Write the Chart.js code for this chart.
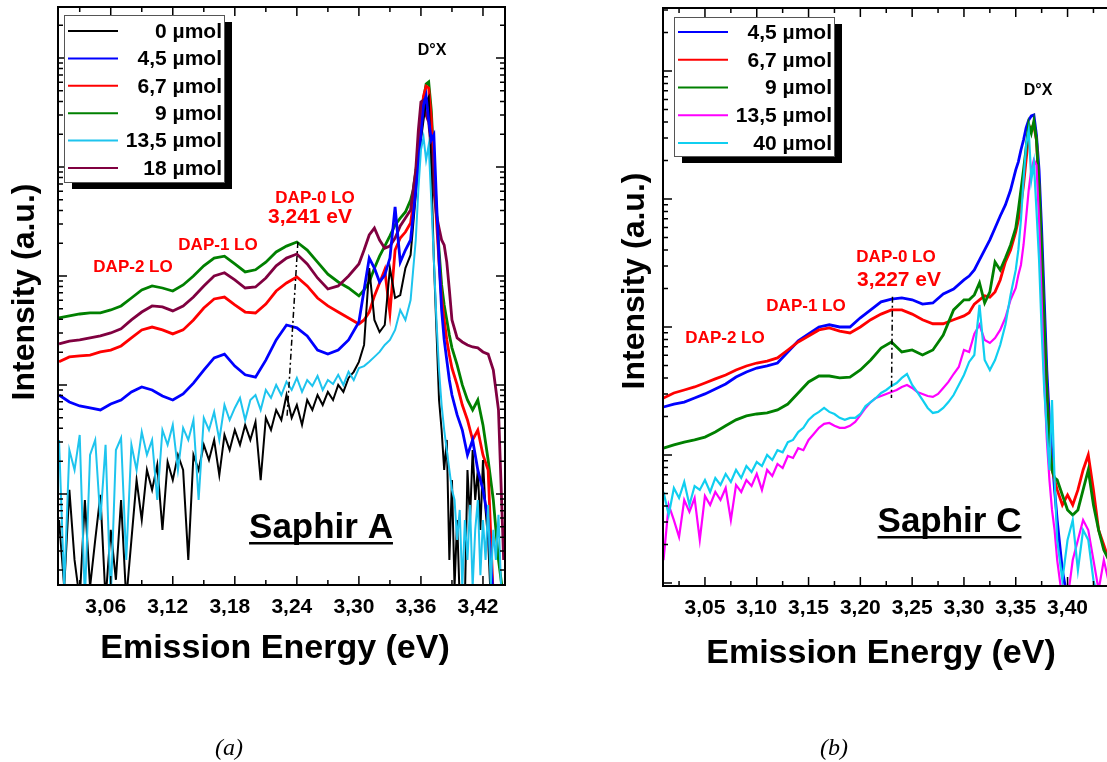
<!DOCTYPE html>
<html>
<head>
<meta charset="utf-8">
<script src="https://cdn.jsdelivr.net/npm/chart.js@4.4.1/dist/chart.umd.min.js"></script>
<style>
  html, body { margin: 0; padding: 0; background: #fff; overflow: hidden; }
</style>
</head>
<body>
<canvas id="chartA" width="545" height="762" style="position:absolute;left:0;top:0"></canvas>
<canvas id="chartB" width="515" height="762" style="position:absolute;left:600px;top:0"></canvas>
<script>
// ---------- panel (a) : Saphir A ----------
const energyA = [3.01,3.02,3.03,3.04,3.05,3.06,3.07,3.08,3.09,3.10,
  3.11,3.12,3.13,3.14,3.15,3.16,3.17,3.18,3.19,3.20,
  3.21,3.22,3.23,3.24,3.25,3.26,3.27,3.28,3.29,3.30,
  3.305,3.31,3.315,3.32,3.325,3.33,3.335,3.34,3.345,
  3.35,3.3525,3.355,3.3575,3.36,3.3625,3.365,3.3675,3.37,3.3725,3.375,3.3775,3.38,3.3825,3.385,3.3875,3.39,
  3.395,3.40,3.405,3.41,3.415,3.42,3.425,3.43,3.435,3.44];
// finer sampling for the two noisy spectra (0 and 13,5 µmol)
const energyNoisyA = [3.010,3.015,3.020,3.025,3.030,3.035,3.040,3.045,3.050,3.055,
  3.060,3.065,3.070,3.075,3.080,3.085,3.090,3.095,3.100,3.105,
  3.110,3.115,3.120,3.125,3.130,3.135,3.140,3.145,3.150,3.155,
  3.160,3.165,3.170,3.175,3.180,3.185,3.190,3.195,3.200,3.205,
  3.210,3.215,3.220,3.225,3.230,3.235,3.240,3.245,3.250,3.255,
  3.260,3.265,3.270,3.275,3.280,3.285,3.290,3.295,3.300,
  3.305,3.31,3.315,3.32,3.325,3.33,3.335,3.34,3.345,
  3.35,3.3525,3.355,3.3575,3.36,3.3625,3.365,3.3675,3.37,3.3725,3.375,3.3775,3.38,3.3825,3.385,3.3875,3.39,
  3.3925,3.395,3.3975,3.40,3.4025,3.405,3.4075,3.41,3.4125,3.415,3.4175,3.42,3.4225,3.425,3.4275,3.43,3.4325,3.435,3.4375,3.44];
const tickValuesA = [3.06, 3.12, 3.18, 3.24, 3.30, 3.36, 3.42];
const tickLabelsA = ['3,06', '3,12', '3,18', '3,24', '3,30', '3,36', '3,42'];
const seriesNamesA = ['0 µmol', '4,5 µmol', '6,7 µmol', '9 µmol', '13,5 µmol', '18 µmol'];

const black0A = [0.577,0.14,1.09,0.248,0.107,0.88,0.14,0.379,0.98,0.107,
  0.468,0.163,0.88,0.107,0.379,1.34,0.577,1.66,1.09,1.85,
  0.468,1.97,1.34,2.28,1.66,0.248,2.28,1.66,2.82,2.05,
  3.13,1.49,3.48,2.53,3.86,2.82,4.30,3.13,4.58,1.34,
  4.98,3.86,5.90,4.77,8.09,4.98,6.55,4.30,7.28,5.90,
  8.09,6.55,8.63,7.28,10.0,8.63,11.6,13.2,16.3,
  23.3,118,39.5,30.6,35.5,118,62.8,66.9,118,
  156,294,553,1040,1770,2700,3950,4390,938,140,32.0,7.28,3.86,1.66,3.13,0.248,1.34,
  0.14,0.577,0.107,0.107,0.107,1.66,0.577,2.53,0.88,1.66,0.468,2.05,0.713,0.379,0.107,0.107,0.107,0.107,0.107,0.107];
const cyan135A = [3.13,0.14,2.53,1.66,3.48,0.107,2.28,3.13,0.577,2.82,
  0.107,2.53,3.26,0.248,2.82,1.66,3.71,2.28,3.13,0.88,
  3.86,2.82,4.30,1.66,4.03,3.13,4.77,0.88,4.98,3.86,
  5.65,3.13,6.55,4.77,6.15,7.60,4.77,7.28,8.09,5.90,
  9.0,7.60,10.0,8.09,10.7,9.0,11.6,8.63,11.1,9.79,
  12.1,9.0,11.1,10.2,12.4,10.0,13.2,11.1,14.3,
  14.9,16.3,18.1,20.1,23.3,25.9,32.0,48.8,39.5,
  60.2,114,214,615,1430,1880,1160,1590,498,140,39.5,13.7,6.55,3.86,2.53,1.66,1.09,
  0.88,0.379,0.713,0.14,0.577,0.248,0.793,0.14,0.468,0.88,0.18,0.577,0.248,0.793,0.14,0.468,0.248,0.642,0.14,0.107];
const blue45A = [8.09,6.98,6.42,6.15,5.90,6.69,7.28,8.63,9.59,9.0,
  7.93,7.28,8.27,10.4,13.7,17.7,19.2,14.9,12.4,11.8,
  16.9,25.9,35.5,33.4,28.2,20.9,19.2,20.9,25.9,37.8,
  74.4,146,118,88.1,102,146,430,134,173,
  214,363,615,1040,1970,3710,4480,2700,1770,1970,498,140,48.8,25.9,16.9,11.1,8.09,
  5.31,3.86,2.28,3.13,1.66,1.09,0.577,0.107,0.107,0.107];
const red67A = [16.3,18.1,18.5,18.8,20.1,20.9,22.8,27.0,32.0,34.0,
  32.0,29.4,32.0,39.5,50.8,61.5,64.1,54.2,46.7,45.8,
  55.3,72.8,86.3,97.9,81.0,62.8,53.1,46.7,41.2,36.3,
  39.5,46.7,65.6,86.3,114,45.8,173,223,253,
  306,448,760,1430,2820,4480,5530,5310,2820,938,326,134,62.8,39.5,25.9,18.8,14.3,
  10.0,6.55,4.77,3.13,3.86,2.28,1.66,0.107,0.107,0.107];
const green9A = [41.2,43.0,44.8,45.8,45.8,48.8,53.1,62.8,74.4,81.0,
  77.6,72.8,82.7,100,124,146,152,129,109,114,
  134,166,188,205,173,134,104,88.1,77.6,65.6,
  74.4,88.1,118,152,188,233,294,340,387,
  498,615,900,1430,2700,4120,5770,6030,3330,1160,403,173,82.7,54.2,39.5,28.8,21.9,
  15.3,10.0,7.28,5.90,7.28,4.30,2.05,0.88,0.248,0.107];
const maroon18A = [23.8,25.3,25.9,27.0,28.2,30.0,32.7,39.5,46.7,53.1,
  52.0,47.8,53.1,64.1,81.0,100,107,92,77.6,79.3,
  95.9,124,146,159,129,95.9,76.0,81.0,100,129,
  173,238,275,214,180,188,223,288,340,
  403,615,938,2180,3950,4120,3000,2590,1430,615,363,275,214,192,134,74.4,39.5,
  27.0,24.8,23.3,22.3,21.9,20.1,19.2,13.7,5.90,0.248];
const dashEnergyA = [3.241, 3.2305];
const dashIntensityA = [205, 5.09];

// ---------- panel (b) : Saphir C ----------
const energyB = [3.01,3.02,3.03,3.04,3.05,3.06,3.07,3.08,3.09,3.10,
  3.11,3.12,3.13,3.14,3.15,3.16,3.17,3.18,3.19,3.20,
  3.21,3.22,3.23,3.24,3.25,3.26,3.27,3.28,3.29,3.30,
  3.305,3.31,3.315,3.32,3.325,3.33,3.335,3.34,3.345,
  3.35,3.3525,3.355,3.3575,3.36,3.3625,3.365,3.3675,3.37,3.3725,3.375,3.3775,3.38,3.3825,3.385,3.3875,3.39,
  3.395,3.40,3.405,3.41,3.415,3.42,3.425,3.43,3.435,3.44];
// finer sampling for the two noisy spectra (13,5 and 40 µmol)
const energyNoisyB = [3.010,3.015,3.020,3.025,3.030,3.035,3.040,3.045,3.050,3.055,
  3.060,3.065,3.070,3.075,3.080,3.085,3.090,3.095,3.100,3.105,
  3.110,3.115,3.120,3.125,3.130,3.135,3.140,3.145,3.150,3.155,
  3.160,3.165,3.170,3.175,3.180,3.185,3.190,3.195,3.200,3.205,
  3.210,3.215,3.220,3.225,3.230,3.235,3.240,3.245,3.250,3.255,
  3.260,3.265,3.270,3.275,3.280,3.285,3.290,3.295,3.300,
  3.305,3.31,3.315,3.32,3.325,3.33,3.335,3.34,3.345,
  3.35,3.3525,3.355,3.3575,3.36,3.3625,3.365,3.3675,3.37,3.3725,3.375,3.3775,3.38,3.3825,3.385,3.3875,3.39,
  3.395,3.40,3.405,3.41,3.415,3.42,3.425,3.43,3.435,3.44];
const tickValuesB = [3.05, 3.10, 3.15, 3.20, 3.25, 3.30, 3.35, 3.40];
const tickLabelsB = ['3,05', '3,10', '3,15', '3,20', '3,25', '3,30', '3,35', '3,40'];
const seriesNamesB = ['4,5 µmol', '6,7 µmol', '9 µmol', '13,5 µmol', '40 µmol'];

const blue45B = [23.7,25.0,25.9,27.9,30.0,32.8,35.9,40.6,44.5,47.8,
  49.6,52.3,63.8,77.8,88.2,100,104,100,100,118,
  136,157,165,169,163,151,154,181,198,233,
  250,279,334,400,479,593,736,898,1175,
  1690,1950,2415,2890,3590,4140,4450,4530,3160,1690,573,163,46.1,18.8,10.0,5.33,3.10,
  1.26,0.74,0.74,0.74,0.74,0.74,0.74,0.74,0.74,0.74];
const red67B = [27.9,30.5,32.2,34.0,36.5,39.3,42.2,46.1,49.6,52.3,
  54.2,57.3,66.1,76.3,85.1,94.8,98.2,93.0,89.8,100,
  114,126,136,136,126,114,106,106,114,122,
  129,151,163,175,171,188,233,322,400,
  552,686,898,1285,2020,3160,3650,3720,2890,1175,334,94.8,32.2,13.1,7.64,6.38,5.33,
  4.07,4.87,4.07,5.33,7.64,10.0,5.33,2.59,1.98,1.5];
const green9B = [11.3,12.0,12.6,13.1,13.8,15.1,16.9,18.8,20.2,20.9,
  21.3,22.5,25.0,30.5,37.2,41.4,41.4,40.0,40.6,46.1,
  55.2,68.5,76.3,63.8,66.1,60.4,66.1,86.6,136,163,
  163,178,221,154,188,322,279,346,437,
  593,820,1175,1690,2500,3850,3280,4070,2890,1285,400,114,32.2,12.0,7.64,6.61,6.38,
  4.87,3.72,3.40,3.72,5.33,7.64,4.07,2.59,1.81,1.5];
const magenta135B = [1.51,4.07,3.10,2.29,4.45,3.59,4.61,2.17,4.78,4.07,
  5.14,4.45,5.52,3.10,5.83,5.14,6.38,5.72,7.11,5.33,
  7.64,6.85,8.51,7.91,9.82,9.48,11.3,10.9,13.1,14.6,
  16.3,17.5,17.8,16.9,16.3,16.3,16.9,18.1,20.5,23.3,
  25.9,27.9,28.9,30.0,31.0,32.2,34.0,35.2,33.4,31.0,
  30.0,28.9,28.4,30.0,33.4,37.2,42.9,48.7,66.1,
  63.8,88.2,104,79.1,75.0,82.0,94.8,118,163,
  202,255,305,437,711,1175,1690,2020,1840,686,163,38.5,13.1,6.38,3.72,2.59,1.51,
  0.74,0.74,1.51,2.17,3.10,2.59,1.51,0.88,1.51,1.0];
const cyan40B = [5.14,3.40,5.52,4.61,6.15,4.07,5.72,5.33,6.38,5.14,
  6.61,5.83,7.11,6.15,7.64,6.61,8.20,7.36,8.81,8.20,
  10.0,9.14,10.9,10.5,12.6,13.1,15.1,16.3,18.8,20.5,
  21.7,23.3,21.7,20.9,19.5,18.8,19.5,19.5,20.9,24.1,
  25.9,27.9,30.5,32.2,34.6,36.5,40.0,42.9,35.2,31.0,
  26.9,23.3,21.3,21.7,23.3,25.9,29.4,35.2,42.2,
  53.3,60.4,149,55.2,46.1,55.2,72.3,104,178,
  279,400,686,1410,2640,3460,1410,1910,820,334,94.8,32.2,15.7,7.64,26.9,6.38,2.17,
  1.05,2.17,3.10,1.26,2.59,2.17,1.05,0.74,0.74,0.74];
const dashEnergyB = [3.231, 3.230];
const dashIntensityB = [172, 27.9];

// ---------- helpers ----------
const SANS = '"Liberation Sans", Arial, sans-serif';
const SERIF = '"Liberation Serif", "Times New Roman", serif';

function pts(xs, ys) { return xs.map((x, i) => ({x: x, y: ys[i]})); }

function trace(label, color, xs, ys, order, width) {
  return {label: label, data: pts(xs, ys), borderColor: color, backgroundColor: color,
    borderWidth: width || 2.8, pointRadius: 0, tension: 0, order: order};
}
function dashLine(xs, ys) {
  return {label: '', data: pts(xs, ys), borderColor: '#000', borderWidth: 1.5,
    borderDash: [6, 3, 2, 3], pointRadius: 0, order: -1};
}

// frame, inward ticks, boxed legend, axis titles and text labels
function makeDecor(cfg) {
  return {
    id: 'decor',
    afterDatasetsDraw(chart) {
      const ctx = chart.ctx, ca = chart.chartArea, x = chart.scales.x, y = chart.scales.y;
      ctx.save();
      ctx.strokeStyle = '#000';
      ctx.lineWidth = 1.5;
      ctx.beginPath();
      for (let i = -6; i < 40; i++) {
        const v = cfg.x0 + i * cfg.xStep / 2;
        if (v < x.min || v > x.max) continue;
        const px = x.getPixelForValue(v);
        const len = i % 2 === 0 ? 9 : 5;
        ctx.moveTo(px, ca.bottom); ctx.lineTo(px, ca.bottom - len);
        ctx.moveTo(px, ca.top); ctx.lineTo(px, ca.top + len);
      }
      const lo = Math.floor(Math.log10(y.min)), hi = Math.ceil(Math.log10(y.max));
      for (let d = lo; d <= hi; d++) {
        for (let k = 1; k < 10; k++) {
          const v = k * Math.pow(10, d);
          if (v < y.min || v > y.max) continue;
          const py = y.getPixelForValue(v);
          const len = k === 1 ? 9 : 5;
          ctx.moveTo(ca.left, py); ctx.lineTo(ca.left + len, py);
          if (cfg.rightTicks) { ctx.moveTo(ca.right, py); ctx.lineTo(ca.right - len, py); }
        }
      }
      ctx.stroke();
      ctx.lineWidth = 2;
      ctx.strokeRect(ca.left, ca.top, ca.right - ca.left, ca.bottom - ca.top);
      ctx.restore();
    },
    afterDraw(chart) {
      const ctx = chart.ctx, L = cfg.legend;
      ctx.save();
      // legend with drop shadow
      ctx.fillStyle = '#000';
      ctx.fillRect(L.x + 8, L.y + 7, L.w, L.h);
      ctx.fillStyle = '#fff';
      ctx.fillRect(L.x, L.y, L.w, L.h);
      ctx.strokeStyle = '#555';
      ctx.lineWidth = 1;
      ctx.strokeRect(L.x + 0.5, L.y + 0.5, L.w, L.h);
      chart.data.datasets.filter(d => d.label).forEach((d, i) => {
        const yy = L.y + L.first + i * L.gap;
        ctx.strokeStyle = d.borderColor;
        ctx.lineWidth = 2;
        ctx.beginPath();
        ctx.moveTo(L.x + 4, yy); ctx.lineTo(L.x + 54, yy);
        ctx.stroke();
        ctx.fillStyle = '#000';
        ctx.font = 'bold 21px ' + SANS;
        ctx.textAlign = 'right';
        ctx.textBaseline = 'middle';
        ctx.fillText(d.label, L.x + L.w - 2, yy + 1);
      });
      // axis titles
      ctx.fillStyle = '#000';
      ctx.textAlign = 'center';
      ctx.textBaseline = 'alphabetic';
      ctx.font = 'bold 34px ' + SANS;
      ctx.fillText('Emission Energy (eV)', cfg.xTitle.x, cfg.xTitle.y);
      ctx.save();
      ctx.translate(cfg.yTitle.x, cfg.yTitle.y);
      ctx.rotate(-Math.PI / 2);
      ctx.font = 'bold 32px ' + SANS;
      ctx.textBaseline = 'middle';
      ctx.fillText('Intensity (a.u.)', 0, 0);
      ctx.restore();
      // annotations
      cfg.texts.forEach(t => {
        ctx.font = t.font;
        ctx.fillStyle = t.color;
        ctx.textAlign = 'center';
        ctx.textBaseline = 'alphabetic';
        ctx.fillText(t.text, t.x, t.y);
        if (t.underline) {
          const w = ctx.measureText(t.text).width;
          ctx.fillRect(t.x - w / 2, t.y + 4, w, 2.5);
        }
      });
      ctx.restore();
    }
  };
}

function makeOptions(o) {
  return {
    responsive: false,
    animation: false,
    devicePixelRatio: 1,
    layout: {padding: o.padding},
    plugins: {legend: {display: false}, tooltip: {enabled: false}},
    scales: {
      x: {
        type: 'linear', min: o.xMin, max: o.xMax,
        afterBuildTicks: s => { s.ticks = o.tickValues.map(v => ({value: v})); },
        afterFit: s => { s.height = o.xHeight; },
        grid: {display: false, drawTicks: false},
        border: {display: false},
        ticks: {callback: (v, i) => o.tickLabels[i], autoSkip: false, maxRotation: 0, padding: 10,
          labelOffset: o.labelOffset, color: '#000', font: {family: SANS, size: 21, weight: 'bold'}},
        title: {display: false}
      },
      y: {
        type: 'logarithmic', min: o.yMin, max: o.yMax,
        afterFit: s => { s.width = o.yWidth; },
        grid: {display: false, drawTicks: false},
        border: {display: false},
        ticks: {display: false},
        title: {display: false}
      }
    }
  };
}

const LBL = 'bold 17px ' + SANS, VAL = 'bold 21px ' + SANS, BIG = 'bold 35px ' + SANS;

new Chart(document.getElementById('chartA'), {
  type: 'line',
  data: {
    datasets: [
      trace(seriesNamesA[0], '#000000', energyNoisyA, black0A, 2, 2),
      trace(seriesNamesA[1], '#0000ff', energyA, blue45A, 1),
      trace(seriesNamesA[2], '#ff0000', energyA, red67A, 4),
      trace(seriesNamesA[3], '#008000', energyA, green9A, 5),
      trace(seriesNamesA[4], '#1ec4ee', energyNoisyA, cyan135A, 0, 2),
      trace(seriesNamesA[5], '#800040', energyA, maroon18A, 3),
      dashLine(dashEnergyA, dashIntensityA)
    ]
  },
  options: makeOptions({
    padding: {left: 0, top: 7, right: 40, bottom: 0},
    xMin: 3.009, xMax: 3.4413, tickValues: tickValuesA, tickLabels: tickLabelsA, labelOffset: -5,
    xHeight: 177, yMin: 0.146, yMax: 29400, yWidth: 58
  }),
  plugins: [makeDecor({
    x0: 3.06, xStep: 0.06, rightTicks: true,
    xTitle: {x: 275, y: 658}, yTitle: {x: 25, y: 292},
    legend: {x: 64, y: 15, w: 160, h: 167, first: 16, gap: 27.4},
    texts: [
      {text: 'D°X', x: 432, y: 55, font: 'bold 16px ' + SANS, color: '#000'},
      {text: 'DAP-0 LO', x: 315, y: 203, font: LBL, color: '#ff0000'},
      {text: '3,241 eV', x: 310, y: 223, font: VAL, color: '#ff0000'},
      {text: 'DAP-1 LO', x: 218, y: 250, font: LBL, color: '#ff0000'},
      {text: 'DAP-2 LO', x: 133, y: 272, font: LBL, color: '#ff0000'},
      {text: 'Saphir A', x: 321, y: 538, font: BIG, color: '#000', underline: true},
      {text: '(a)', x: 229, y: 755, font: 'italic 24px ' + SERIF, color: '#000'}
    ]
  })]
});

new Chart(document.getElementById('chartB'), {
  type: 'line',
  data: {
    datasets: [
      trace(seriesNamesB[0], '#0000ff', energyB, blue45B, 4),
      trace(seriesNamesB[1], '#ff0000', energyB, red67B, 3),
      trace(seriesNamesB[2], '#008000', energyB, green9B, 2),
      trace(seriesNamesB[3], '#ff00ff', energyNoisyB, magenta135B, 1, 2.2),
      trace(seriesNamesB[4], '#10cff0', energyNoisyB, cyan40B, 0, 2.2),
      dashLine(dashEnergyB, dashIntensityB)
    ]
  },
  options: makeOptions({
    padding: {left: 0, top: 8, right: 0, bottom: 0},
    xMin: 3.0095, xMax: 3.4458, tickValues: tickValuesB, tickLabels: tickLabelsB, labelOffset: 0,
    xHeight: 176, yMin: 0.947, yMax: 31050, yWidth: 63
  }),
  plugins: [makeDecor({
    x0: 3.05, xStep: 0.05, rightTicks: false,
    xTitle: {x: 281, y: 663}, yTitle: {x: 35, y: 281},
    legend: {x: 74, y: 17, w: 160, h: 139, first: 15, gap: 27.75},
    texts: [
      {text: 'D°X', x: 438, y: 95, font: 'bold 16px ' + SANS, color: '#000'},
      {text: 'DAP-0 LO', x: 296, y: 262, font: LBL, color: '#ff0000'},
      {text: '3,227 eV', x: 299, y: 286, font: VAL, color: '#ff0000'},
      {text: 'DAP-1 LO', x: 206, y: 311, font: LBL, color: '#ff0000'},
      {text: 'DAP-2 LO', x: 125, y: 343, font: LBL, color: '#ff0000'},
      {text: 'Saphir C', x: 349.5, y: 532, font: BIG, color: '#000', underline: true},
      {text: '(b)', x: 234, y: 755, font: 'italic 24px ' + SERIF, color: '#000'}
    ]
  })]
});
</script>
</body>
</html>
